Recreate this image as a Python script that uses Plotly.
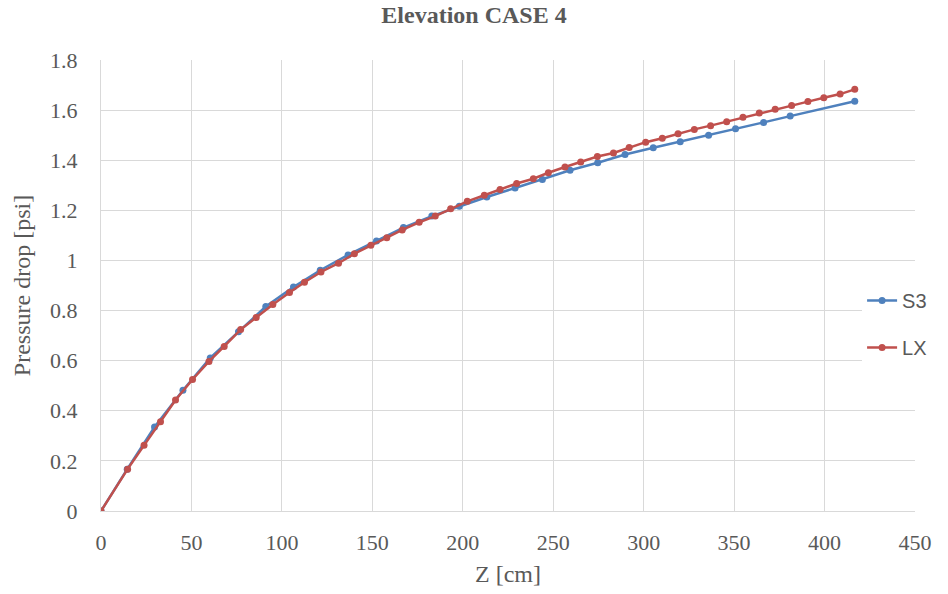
import plotly.graph_objects as go

# S3 series (blue)
s3_z = [0, 14.5, 29.6, 45.3, 60.4, 76.0, 91.1, 106.4, 121.2, 136.6, 152.3, 167.2, 182.9,
        198.1, 213.3, 228.9, 244.0, 259.3, 274.6, 289.7, 305.3, 320.2, 335.9, 350.8,
        366.3, 381.0, 416.7]
s3_p = [0, 0.167, 0.335, 0.482, 0.611, 0.715, 0.816, 0.894, 0.961, 1.022, 1.078, 1.131, 1.177,
        1.216, 1.253, 1.289, 1.323, 1.360, 1.390, 1.423, 1.450, 1.474, 1.500, 1.526,
        1.551, 1.576, 1.635]

# LX series (red)
lx_z = [0, 14.7, 23.8, 32.9, 41.2, 50.6, 59.7, 68.1, 77.2, 85.8, 95.0, 104.2, 112.5, 121.6,
        131.3, 140.1, 149.2, 158.0, 166.5, 175.9, 184.8, 193.3, 202.5, 211.9, 220.6, 229.8,
        239.0, 247.3, 256.5, 265.2, 274.4, 283.3, 292.0, 301.1, 310.3, 319.0, 328.0, 337.0,
        345.9, 354.9, 363.9, 372.7, 381.8, 390.8, 399.6, 408.6, 416.7]
lx_p = [0, 0.167, 0.262, 0.356, 0.443, 0.525, 0.597, 0.657, 0.724, 0.772, 0.824, 0.872, 0.913,
        0.954, 0.989, 1.027, 1.061, 1.091, 1.122, 1.152, 1.177, 1.206, 1.236, 1.260, 1.283,
        1.307, 1.326, 1.350, 1.373, 1.393, 1.415, 1.429, 1.451, 1.472, 1.488, 1.506, 1.523,
        1.538, 1.554, 1.572, 1.588, 1.603, 1.618, 1.634, 1.649, 1.664, 1.683]

x_ticks = [0, 50, 100, 150, 200, 250, 300, 350, 400, 450]
y_ticks = [0, 0.2, 0.4, 0.6, 0.8, 1, 1.2, 1.4, 1.6, 1.8]
y_tick_text = ["0", "0.2", "0.4", "0.6", "0.8", "1", "1.2", "1.4", "1.6", "1.8"]

BLUE = "#4F81BD"
RED = "#C0504D"
GRID = "#D9D9D9"
TXT = "#595959"
SERIF = "Liberation Serif, Times New Roman, serif"

fig = go.Figure()
fig.add_trace(go.Scatter(x=s3_z, y=s3_p, name="S3", mode="lines+markers",
                         line=dict(color=BLUE, width=2.5),
                         marker=dict(color=BLUE, size=7),
                         legendgroup="a"))
fig.add_trace(go.Scatter(x=lx_z, y=lx_p, name="LX", mode="lines+markers",
                         line=dict(color=RED, width=2.5),
                         marker=dict(color=RED, size=7),
                         legendgroup="b"))

fig.update_layout(
    width=948, height=594,
    paper_bgcolor="white", plot_bgcolor="white",
    margin=dict(l=101, r=33, t=60, b=83, autoexpand=False),
    title=dict(text="<b>Elevation CASE 4</b>", x=0.5, xref="container", xanchor="center",
               y=0.975, yanchor="middle",
               font=dict(family=SERIF, size=24, color=TXT)),
    legend=dict(x=0.935, y=0.51, xanchor="left", yanchor="top",
                bgcolor="white", borderwidth=0,
                font=dict(family="Liberation Sans, Arial, sans-serif", size=20, color=TXT),
                tracegroupgap=18, traceorder="grouped"),
    showlegend=True,
)
fig.update_xaxes(range=[0, 450], tickvals=x_ticks, ticktext=[str(v) for v in x_ticks],
                 showgrid=True, gridcolor=GRID, gridwidth=1,
                 showline=True, linecolor=GRID, linewidth=1,
                 zeroline=False, ticks="", ticklabelstandoff=12,
                 tickfont=dict(family=SERIF, size=22, color=TXT),
                 title=dict(text="Z [cm]", font=dict(family=SERIF, size=24, color=TXT), standoff=10))
fig.update_yaxes(range=[0, 1.8], tickvals=y_ticks, ticktext=y_tick_text,
                 showgrid=True, gridcolor=GRID, gridwidth=1,
                 showline=True, linecolor=GRID, linewidth=1,
                 zeroline=False, ticks="", ticklabelstandoff=18,
                 tickfont=dict(family=SERIF, size=22, color=TXT),
                 title=dict(text="Pressure drop [psi]", font=dict(family=SERIF, size=24, color=TXT), standoff=12))

fig.write_html("out.html", config={"displayModeBar": False},
               post_script="document.body.style.margin='0px';")
